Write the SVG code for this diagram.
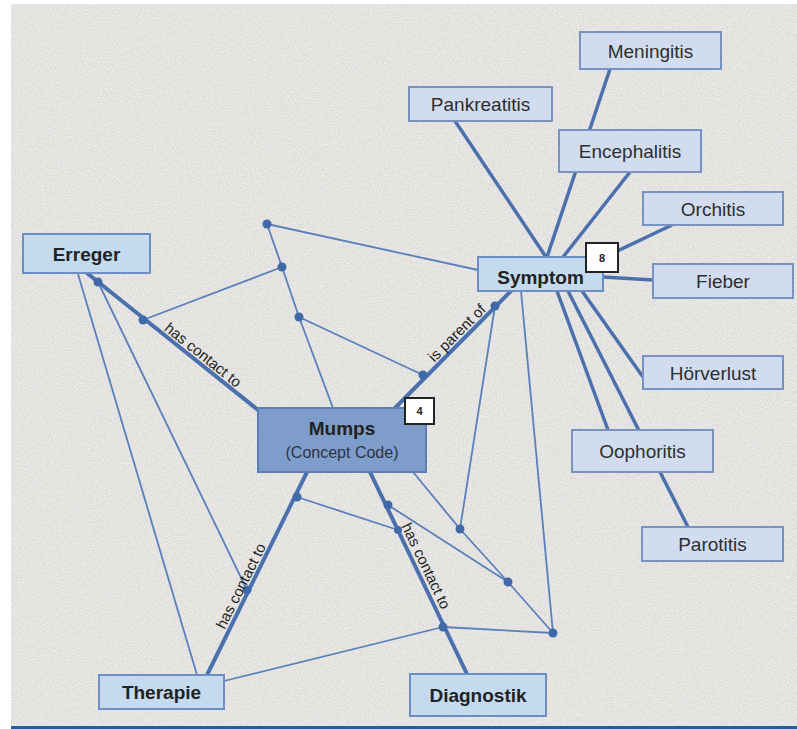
<svg xmlns="http://www.w3.org/2000/svg" width="797" height="729" viewBox="0 0 797 729">
<defs>
<filter id="grain" x="0" y="0" width="100%" height="100%">
<feTurbulence type="fractalNoise" baseFrequency="0.85" numOctaves="2" seed="7" result="t"/>
<feColorMatrix in="t" type="matrix" values="0 0 0 0 1  0 0 0 0 1  0 0 0 0 1  1.4 0 0 0 -0.5"/>
</filter>
<style>
.bg{fill:#dedcd9}
.thick{stroke:#4a70ad;stroke-width:4;fill:none;stroke-linecap:round}
.sym{stroke:#4a70ad;stroke-width:3.5;fill:none}
.thin{stroke:#5a80ba;stroke-width:1.8;fill:none;stroke-linejoin:round}
.dot{fill:#3f69a8}
.leaf{fill:#d1ddef;stroke:#7893c2;stroke-width:2}
.cat{fill:#c4daee;stroke:#6c8ec2;stroke-width:2}
.main{fill:#7f9dca;stroke:#5d7eb4;stroke-width:2}
.badge{fill:#ffffff;stroke:#222;stroke-width:2}
.t{font-family:"Liberation Sans",Arial,sans-serif;font-size:19px;fill:#2e2e2e;text-anchor:middle}
.b{font-family:"Liberation Sans",Arial,sans-serif;font-size:19px;font-weight:bold;fill:#222;text-anchor:middle}
.s{font-family:"Liberation Sans",Arial,sans-serif;font-size:16px;fill:#2b3445;text-anchor:middle}
.e{font-family:"Liberation Sans",Arial,sans-serif;font-size:15px;fill:#222;text-anchor:middle}
.n{font-family:"Liberation Sans",Arial,sans-serif;font-size:11px;font-weight:bold;fill:#222;text-anchor:middle}
</style>
</defs>
<rect x="0" y="0" width="797" height="729" fill="#ffffff"/>
<rect class="bg" x="11" y="4" width="786" height="722"/>
<rect x="11" y="4" width="786" height="722" filter="url(#grain)"/>
<rect x="11" y="726" width="786" height="3" fill="#2a5a9f"/>

<g id="connectors">
<line class="thick" x1="87" y1="273" x2="258" y2="410"/>
<line class="thick" x1="395" y1="408" x2="511" y2="291"/>
<line class="thick" x1="307" y1="472" x2="207" y2="675"/>
<line class="thick" x1="370" y1="472" x2="467" y2="674"/>
<line class="sym" x1="546" y1="257" x2="455" y2="121"/>
<line class="sym" x1="547" y1="257" x2="610" y2="69"/>
<line class="sym" x1="563" y1="257" x2="630" y2="172"/>
<line class="sym" x1="590" y1="264" x2="672" y2="225"/>
<line class="sym" x1="603" y1="277" x2="653" y2="280"/>
<line class="sym" x1="582" y1="291" x2="643" y2="377"/>
<line class="sym" x1="557" y1="291" x2="608" y2="430"/>
<line class="sym" x1="568" y1="291" x2="688" y2="527"/>
<line class="thin" x1="267" y1="224" x2="478" y2="270"/>
<polyline class="thin" points="267,224 282,267 299,317 333,408"/>
<line class="thin" x1="143" y1="320" x2="282" y2="267"/>
<line class="thin" x1="299" y1="317" x2="423" y2="375"/>
<line class="thin" x1="495" y1="306" x2="460" y2="529"/>
<line class="thin" x1="521" y1="291" x2="553" y2="633"/>
<polyline class="thin" points="413,472 460,529 508,582 553,633"/>
<line class="thin" x1="297" y1="497" x2="398" y2="530"/>
<line class="thin" x1="388" y1="505" x2="508" y2="582"/>
<line class="thin" x1="78" y1="274" x2="197" y2="675"/>
<line class="thin" x1="98" y1="282" x2="247" y2="590"/>
<polyline class="thin" points="224,681 443,627 553,633"/>
<circle class="dot" cx="98" cy="282" r="4.5"/>
<circle class="dot" cx="143" cy="320" r="4.5"/>
<circle class="dot" cx="267" cy="224" r="4.5"/>
<circle class="dot" cx="282" cy="267" r="4.5"/>
<circle class="dot" cx="299" cy="317" r="4.5"/>
<circle class="dot" cx="423" cy="375" r="4.5"/>
<circle class="dot" cx="495" cy="306" r="4.5"/>
<circle class="dot" cx="460" cy="529" r="4.5"/>
<circle class="dot" cx="508" cy="582" r="4.5"/>
<circle class="dot" cx="553" cy="633" r="4.5"/>
<circle class="dot" cx="443" cy="627" r="4.5"/>
<circle class="dot" cx="388" cy="505" r="4.5"/>
<circle class="dot" cx="398" cy="530" r="4"/>
<circle class="dot" cx="297" cy="497" r="4.5"/>
<circle class="dot" cx="247" cy="590" r="4.5"/>
<text class="e" transform="translate(203,355) rotate(38.7)" x="0" y="5">has contact to</text>
<text class="e" transform="translate(457,333) rotate(-45)" x="0" y="5">is parent of</text>
<text class="e" transform="translate(241,586) rotate(-63.5)" x="0" y="5">has contact to</text>
<text class="e" transform="translate(426,566) rotate(64.3)" x="0" y="5">has contact to</text>
</g>

<g id="meningitis"><rect class="leaf" x="580" y="32" width="141" height="37"/><text class="t" x="650.5" y="57.5">Meningitis</text></g>
<g id="pankreatitis"><rect class="leaf" x="409" y="87" width="143" height="34"/><text class="t" x="480.5" y="111">Pankreatitis</text></g>
<g id="encephalitis"><rect class="leaf" x="559" y="130" width="142" height="42"/><text class="t" x="630" y="158">Encephalitis</text></g>
<g id="orchitis"><rect class="leaf" x="643" y="192" width="140" height="33"/><text class="t" x="713" y="215.5">Orchitis</text></g>
<g id="fieber"><rect class="leaf" x="653" y="264" width="140" height="34"/><text class="t" x="723" y="288">Fieber</text></g>
<g id="hoerverlust"><rect class="leaf" x="643" y="356" width="140" height="33"/><text class="t" x="713" y="379.5">Hörverlust</text></g>
<g id="oophoritis"><rect class="leaf" x="572" y="430" width="141" height="42"/><text class="t" x="642.5" y="458">Oophoritis</text></g>
<g id="parotitis"><rect class="leaf" x="642" y="527" width="141" height="34"/><text class="t" x="712.5" y="551">Parotitis</text></g>
<g id="symptom"><rect class="cat" x="478" y="257" width="125" height="34"/><text class="b" x="540.5" y="284">Symptom</text>
<rect class="badge" x="586" y="243" width="32" height="29"/><text class="n" x="602" y="261.5">8</text></g>
<g id="erreger"><rect class="cat" x="23" y="234" width="127" height="39"/><text class="b" x="86.5" y="260.5">Erreger</text></g>
<g id="therapie"><rect class="cat" x="99" y="675" width="125" height="34"/><text class="b" x="161.5" y="699">Therapie</text></g>
<g id="diagnostik"><rect class="cat" x="410" y="674" width="136" height="42"/><text class="b" x="478" y="702">Diagnostik</text></g>
<g id="mumps"><rect class="main" x="258" y="408" width="168" height="64"/><text class="b" x="342" y="435">Mumps</text><text class="s" x="342" y="458">(Concept Code)</text>
<rect class="badge" x="405" y="398" width="29" height="26"/><text class="n" x="419.5" y="415">4</text></g>
</svg>
